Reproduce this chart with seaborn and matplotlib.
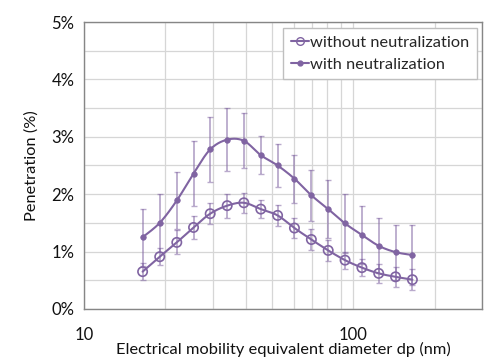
import matplotlib
matplotlib.use("Agg")
import matplotlib.pyplot as plt
from matplotlib.ticker import FixedLocator, NullFormatter, FuncFormatter
from matplotlib.lines import Line2D
import numpy as np
import pandas as pd
import seaborn as sns

# electrical mobility diameter (nm)
diam = [16.5, 19.1, 22.1, 25.5, 29.4, 34.0, 39.2, 45.3, 52.3, 60.4,
        69.8, 80.6, 93.1, 107.5, 124.1, 143.3, 165.5]
# penetration (%) and error bars
pen_without = [0.65, 0.91, 1.16, 1.42, 1.66, 1.80, 1.85, 1.74, 1.63, 1.41,
               1.21, 1.02, 0.85, 0.72, 0.62, 0.56, 0.51]
err_without = [0.15, 0.15, 0.21, 0.20, 0.18, 0.21, 0.17, 0.16, 0.19, 0.17,
               0.19, 0.19, 0.15, 0.15, 0.17, 0.17, 0.18]
pen_with = [1.25, 1.50, 1.89, 2.36, 2.78, 2.95, 2.93, 2.68, 2.50, 2.27,
            1.98, 1.74, 1.49, 1.29, 1.10, 0.99, 0.94]
err_with = [0.50, 0.51, 0.50, 0.56, 0.57, 0.55, 0.48, 0.33, 0.37, 0.42,
            0.44, 0.50, 0.52, 0.51, 0.48, 0.48, 0.52]

labels = ["without neutralization", "with neutralization"]
purple = "#8064A2"


def smooth(x, y, n=20):
    # excel-like smoothed line (catmull-rom bezier) in log-x space
    u = np.log10(x) * 270.0
    v = np.asarray(y) * 57.4
    P = np.column_stack([u, v])
    P = np.vstack([P[0], P, P[-1]])
    out = []
    t = np.linspace(0, 1, n)[:, None]
    for i in range(1, len(P) - 2):
        p0, p1, p2, p3 = P[i - 1], P[i], P[i + 1], P[i + 2]
        c1 = p1 + (p2 - p0) / 6
        c2 = p2 - (p3 - p1) / 6
        seg = ((1 - t) ** 3) * p1 + 3 * ((1 - t) ** 2) * t * c1 + 3 * (1 - t) * t ** 2 * c2 + t ** 3 * p2
        out.append(seg)
    out = np.vstack(out)
    return 10 ** (out[:, 0] / 270.0), out[:, 1] / 57.4


sns.set_style("white")
plt.rcParams["font.family"] = ["Lato", "DejaVu Sans"]

fig = plt.figure(figsize=(5, 3.58), dpi=100)
ax = fig.add_axes([0.168, 0.137, 0.796, 0.8015])

df = pd.DataFrame({"dp": diam * 2,
                   "pen": pen_without + pen_with,
                   "series": [labels[0]] * len(diam) + [labels[1]] * len(diam)})

ax.errorbar(diam, pen_without, yerr=err_without, fmt="none", ecolor=purple,
            alpha=0.55, elinewidth=1.3, capsize=2.0, capthick=1.0, zorder=2)
ax.errorbar(diam, pen_with, yerr=err_with, fmt="none", ecolor=purple,
            alpha=0.55, elinewidth=1.3, capsize=2.0, capthick=1.0, zorder=2)

for ys in [pen_without, pen_with]:
    sx, sy = smooth(diam, ys)
    ax.plot(sx, sy, color=purple, lw=1.5, zorder=3)

sns.scatterplot(data=df[df.series == labels[0]], x="dp", y="pen", ax=ax,
                marker="o", s=45, facecolors="none", edgecolor=purple,
                linewidth=1.2, zorder=4, legend=False)
sns.scatterplot(data=df[df.series == labels[1]], x="dp", y="pen", ax=ax,
                marker="o", s=16, color=purple, edgecolor=purple,
                linewidth=0.5, zorder=4, legend=False)

ax.set_xscale("log")
ax.set_xlim(10, 300)
ax.set_ylim(0, 5)

ax.xaxis.set_major_locator(FixedLocator([10, 100]))
ax.xaxis.set_minor_locator(FixedLocator([20, 30, 40, 50, 60, 70, 80, 90, 200, 300]))
ax.xaxis.set_major_formatter(FuncFormatter(lambda v, p: "%d" % v))
ax.xaxis.set_minor_formatter(NullFormatter())
ax.yaxis.set_major_locator(FixedLocator([0, 1, 2, 3, 4, 5]))
ax.yaxis.set_minor_locator(FixedLocator(np.arange(0.5, 5, 1.0)))
ax.yaxis.set_major_formatter(FuncFormatter(lambda v, p: "%d%%" % v))

ax.grid(True, which="both", color="#d6d6d6", lw=0.9)
ax.set_axisbelow(True)
for s in ax.spines.values():
    s.set_color("#868686")
    s.set_linewidth(1.0)

ax.tick_params(axis="both", which="major", length=4, width=1, color="#868686",
               labelsize=12, labelcolor="#111111", pad=3)
ax.tick_params(axis="x", which="major", pad=9)
ax.tick_params(axis="both", which="minor", length=0)

ax.set_xlabel("Electrical mobility equivalent diameter dp (nm)", fontsize=11.8,
              color="#111111", labelpad=-1)
ax.set_ylabel("Penetration (%)", fontsize=11.8, color="#111111", labelpad=9)

handles = [
    Line2D([], [], color=purple, lw=1.5, marker="o", markersize=5.5,
           markerfacecolor="none", markeredgewidth=1.0),
    Line2D([], [], color=purple, lw=1.5, marker="o", markersize=3.5),
]
leg = ax.legend(handles, labels, loc="upper right", bbox_to_anchor=(0.987, 0.979),
                fontsize=11.8, frameon=True, fancybox=False, framealpha=1,
                edgecolor="#bfbfbf", handlelength=1.1, handletextpad=0.1,
                borderpad=0.45, labelspacing=0.45, borderaxespad=0)
leg.get_frame().set_linewidth(1.0)

fig.savefig("out.png", dpi=100)
